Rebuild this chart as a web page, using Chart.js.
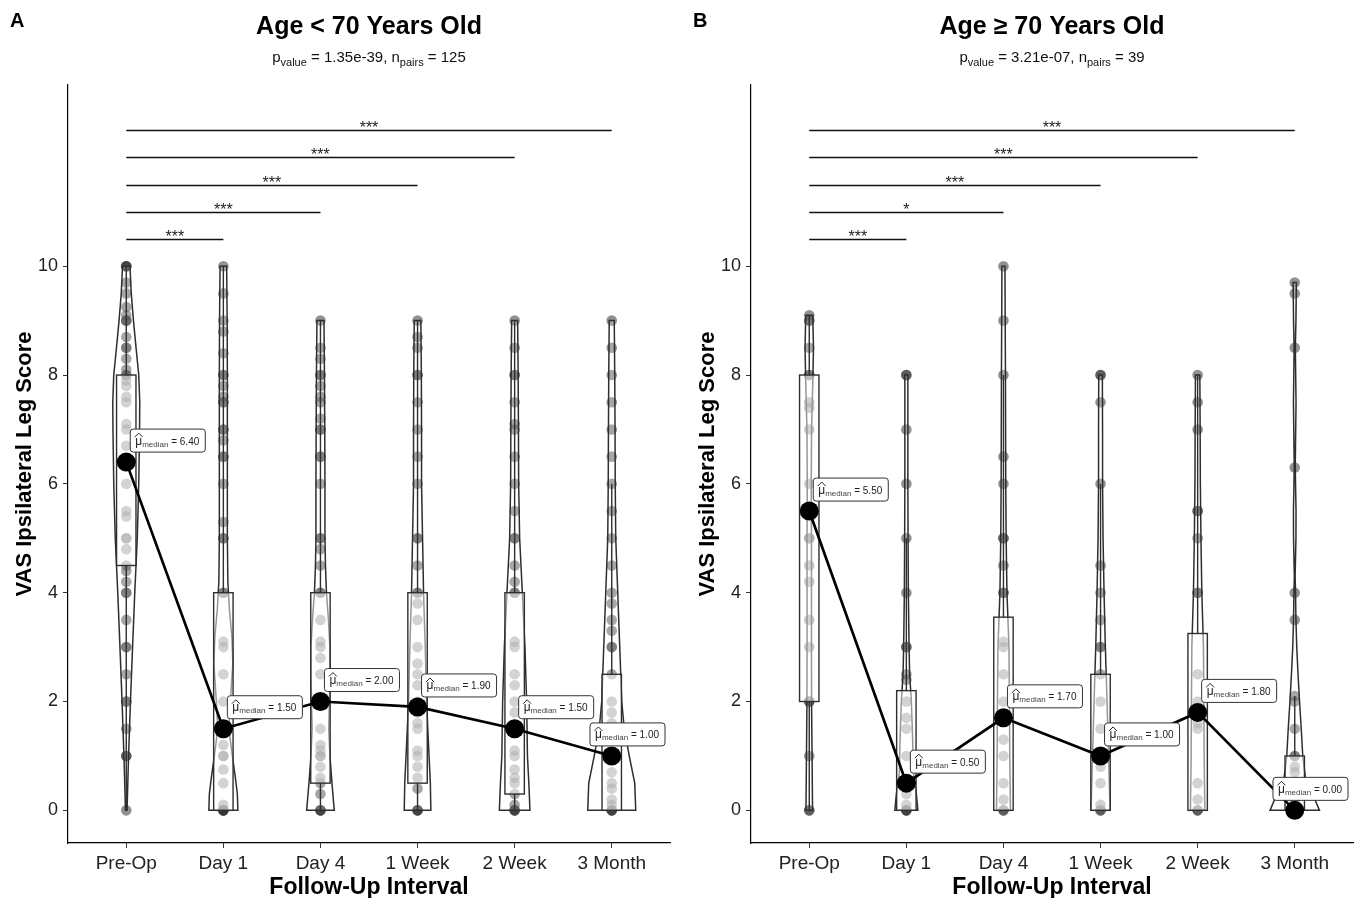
<!DOCTYPE html>
<html><head><meta charset="utf-8">
<script src="https://cdn.jsdelivr.net/npm/chart.js@4"></script>
<style>
html,body{margin:0;padding:0;background:#fff;}
#wrap{position:relative;width:1358px;height:898px;overflow:hidden;background:#fff;}
.pane{position:absolute;top:0;width:680px;height:898px;}
</style></head><body>
<div id="wrap">
<div class="pane" style="left:0"><canvas id="cA" width="680" height="898"></canvas></div>
<div class="pane" style="left:683px"><canvas id="cB" width="680" height="898"></canvas></div>
</div>
<script>
// ---------- shared ----------
const categories = ['Pre-Op','Day 1','Day 4','1 Week','2 Week','3 Month'];
const yTicks = [0,2,4,6,8,10];
const bracketLevels = [10.5, 11, 11.5, 12, 12.5];

// ---------- Panel A : Age < 70 ----------
const titleA = 'Age < 70 Years Old';
const pValueA = '1.35e-39';
const nPairsA = 125;
const mediansA = [6.4, 1.5, 2.0, 1.9, 1.5, 1.0];
const q1A = [4.5, 0, 0.5, 0.5, 0.3, 0];
const q3A = [8, 4, 4, 4, 4, 2.5];
const starsA = ['***','***','***','***','***'];
const a_preOp = [0,1,1,1.5,2,2,2.5,3,3,3.5,4,4,4.2,4.4,4.5,4.8,5,5,5.4,5.5,6,6.7,7,7.1,7.5,7.6,7.8,7.9,8,8,8.1,8.3,8.5,8.5,8.7,9,9,9,9.1,9.25,9.5,9.7,10,10,10];
const a_day1 = [0,0,0,0,0.1,0.5,0.75,1,1,1.2,1.5,2,2.5,3,3.1,4,4,5,5,5.3,6,6.5,6.5,6.8,7,7,7.5,7.5,7.6,7.8,8,8,8.4,8.8,9,9.5,10];
const a_day4 = [0,0,0,0.3,0.5,0.6,0.8,1,1,1.1,1.2,1.5,2,2.5,2.8,3,3.1,3.5,4,4,4.5,4.8,5,5,6,6.5,6.5,7,7,7.2,7.5,7.6,7.8,8,8,8.3,8.5,9];
const a_week1 = [0,0,0,0.4,0.6,0.8,1,1.1,1.5,1.6,1.8,2,2.3,2.5,2.7,3,3.5,3.8,4,4,4.5,5,5,6,6.5,7,7.5,8,8,8.5,8.7,9];
const a_week2 = [0,0,0,0.1,0.3,0.5,0.6,0.75,1,1.1,1.5,1.8,2,2.3,2.5,3,3.1,4,4,4.2,4.5,5,5,5.5,6,6.5,7,7.1,7.5,8,8,8.5,9];
const a_month3 = [0,0,0,0.1,0.2,0.4,0.5,0.7,1,1,1.5,1.6,1.8,2,2.5,3,3,3.3,3.5,3.8,4,4.5,5,5.5,6,6.5,7,7.5,8,8.5,9];
// violin density profiles: [score, relative density]
const vA_preOp = [[0,0.8],[1,2.3],[2,4.2],[3,6.3],[4,8.5],[5,11],[6,12.5],[7,13.3],[7.5,13.5],[8,12.5],[8.5,9.8],[9,7.2],[9.5,5],[10,3.7]];
const vA_day1 = [[0,14.5],[0.3,14],[0.6,12],[1,9],[1.5,5.5],[2,7],[2.7,9.5],[3.2,8.5],[3.7,6],[4.2,4.5],[5,4],[6,4],[8,4],[9,3.8],[10,3.3]];
const vA_day4 = [[0,13.8],[0.5,11.5],[1,9.5],[1.5,8.3],[2,9],[2.5,9.5],[3,9.5],[3.5,8],[4,6],[4.5,5],[5,4.5],[6,4.5],[7,4.3],[8,4],[9,3.5]];
const vA_week1 = [[0,13.3],[0.5,12.8],[1,11.5],[2,9],[3,7.7],[4,6],[5,5],[6,4],[7,4],[8,3.8],[9,3.3]];
const vA_week2 = [[0,15.3],[0.5,14.2],[1,12.8],[2,12],[3,10.3],[4,7.7],[5,5],[6,4],[7,3.8],[8,3.5],[9,3]];
const vA_month3 = [[0,24],[0.5,23],[1,17.5],[1.5,12.5],[2,10],[2.5,9],[3,8],[4,6],[5,4],[6,3.5],[7,3.3],[8,3],[9,2.5]];

// ---------- Panel B : Age >= 70 ----------
const titleB = 'Age \u2265 70 Years Old';
const pValueB = '3.21e-07';
const nPairsB = 39;
const mediansB = [5.5, 0.5, 1.7, 1.0, 1.8, 0.0];
const q1B = [2, 0, 0, 0, 0, 0];
const q3B = [8, 2.2, 3.55, 2.5, 3.25, 1.0];
const starsB = ['***','*','***','***','***'];
const b_preOp = [0,0,1,2,2,3,3.5,4.2,4.5,5,5,6,7,7.4,7.5,8,8,8.5,9,9,9.1];
const b_day1 = [0,0,0,0.1,0.3,0.5,1,1.5,1.7,2,2.4,2.5,3,3,4,5,6,7,8,8];
const b_day4 = [0,0,0.2,0.5,1,1.3,1.7,2,2.5,3,3.1,4,4,4.5,5,5,6,6.5,8,9,10];
const b_week1 = [0,0,0.1,0.5,0.8,1,1.5,2,2.5,3,3,3.5,4,4.5,6,7.5,8,8];
const b_week2 = [0,0,0.2,0.5,1.5,1.6,2,2.5,4,4,5,5.5,5.5,7,7.5,8];
const b_month3 = [0,0,0,0,0.2,0.5,0.7,0.8,1,1,1.5,2,2.1,3.5,4,6.3,8.5,9.5,9.7];
const vB_preOp = [[0,3.3],[1,2.8],[2,2.3],[3,2.2],[4,2.2],[5,2.2],[6,2],[7,2.3],[8,3.7],[8.5,4.2],[9.1,3.5]];
const vB_day1 = [[0,11.5],[0.3,10],[0.7,7],[1.3,6.3],[2,5],[2.5,3.3],[3,2.7],[4,2],[5,1.7],[6,1.5],[7,1.5],[8,1.5]];
const vB_day4 = [[0,7],[1,6.3],[2,6],[3,5.5],[3.5,4.5],[4,3.5],[5,2.7],[6,2.3],[8,2],[10,1.5]];
const vB_week1 = [[0,9.5],[1,8],[2,6.5],[3,4.8],[4,3.5],[5,2.5],[6,2],[7,2],[8,1.8]];
const vB_week2 = [[0,7.2],[1,6.5],[2,6.2],[3,5.8],[4,4.2],[5,3.3],[6,2.7],[7,2.5],[8,2.2]];
const vB_month3 = [[0,24.7],[0.25,19],[0.55,11],[1,8],[1.5,6.5],[2,4.8],[2.5,3.3],[3,2],[3.5,1.2],[4,0.8],[4.3,0.4],[5,1.2],[5.5,1.3],[6.3,0.5],[7.5,1.3],[8.5,0.6],[9,1.2],[9.7,1.6]];

const VIOLIN_SCALE = 1/97.1;   // density unit -> category units
const BOX_HALF = 0.1;
const FONT = '"Liberation Sans", Arial, Helvetica, sans-serif';

Chart.defaults.font.family = FONT;

function whiskers(pts, q1, q3){
  const iqr = q3 - q1;
  const hiB = q3 + 1.5*iqr, loB = q1 - 1.5*iqr;
  let hi = q3, lo = q1;
  pts.forEach(v => { if (v <= hiB && v > hi) hi = v; if (v >= loB && v < lo) lo = v; });
  return [lo, hi];
}

function drawSubtitle(ctx, cx, y, pv, n){
  const parts = [
    ['p', 15, 0], ['value', 11, 4], [' = ' + pv + ', n', 15, 0], ['pairs', 11, 4], [' = ' + n, 15, 0]
  ];
  let total = 0;
  parts.forEach(p => { ctx.font = p[1] + 'px ' + FONT; p.push(ctx.measureText(p[0]).width); total += p[3]; });
  let x = cx - total/2;
  ctx.fillStyle = '#111'; ctx.textAlign = 'left'; ctx.textBaseline = 'alphabetic';
  parts.forEach(p => { ctx.font = p[1] + 'px ' + FONT; ctx.fillText(p[0], x, y + p[2]); x += p[3]; });
}

function drawMedianLabel(ctx, x, y, med, rightLimit){
  const s1 = '\u03bc', s2 = 'median', s3 = ' = ' + med.toFixed(2);
  ctx.font = '12px ' + FONT; const w1 = ctx.measureText(s1).width;
  ctx.font = '8px ' + FONT; const w2 = ctx.measureText(s2).width;
  ctx.font = '10px ' + FONT; const w3 = ctx.measureText(s3).width;
  const W = w1 + w2 + w3 + 11, H = 23;
  let left = x + 4;
  if (left + W > rightLimit - 5) left = rightLimit - 5 - W;
  const top = y - 10 - H;
  ctx.beginPath();
  ctx.roundRect(left, top, W, H, 3);
  ctx.fillStyle = '#fff'; ctx.fill();
  ctx.strokeStyle = '#333'; ctx.lineWidth = 1; ctx.stroke();
  const base = top + 15.5;
  ctx.fillStyle = '#222'; ctx.textAlign = 'left'; ctx.textBaseline = 'alphabetic';
  ctx.font = '12px ' + FONT; ctx.fillText(s1, left + 5, base);
  ctx.beginPath();
  ctx.moveTo(left + 4.5, top + 8); ctx.lineTo(left + 5 + w1/2, top + 4); ctx.lineTo(left + 5.5 + w1, top + 8);
  ctx.strokeStyle = '#222'; ctx.lineWidth = 1; ctx.stroke();
  ctx.font = '8px ' + FONT; ctx.fillStyle = '#444'; ctx.fillText(s2, left + 5 + w1, base + 2);
  ctx.font = '10px ' + FONT; ctx.fillStyle = '#222'; ctx.fillText(s3, left + 5 + w1 + w2, base);
}

function buildPanel(canvasId, P){
  const scatterData = [];
  P.points.forEach((arr, i) => arr.forEach(v => scatterData.push({x: i, y: v})));
  const medData = P.medians.map((m, i) => ({x: i, y: m}));

  const plugin = {
    id: 'extras' + canvasId,
    afterDatasetDraw(chart, args){
      if (args.index !== 0) return;
      const ctx = chart.ctx, xs = chart.scales.x, ys = chart.scales.y;
      ctx.save();
      // violins
      P.violins.forEach((prof, i) => {
        const cx = xs.getPixelForValue(i);
        const hw = d => xs.getPixelForValue(i + d * VIOLIN_SCALE) - cx;
        ctx.beginPath();
        prof.forEach(([v, d], k) => {
          const px = cx - hw(d), py = ys.getPixelForValue(v);
          if (k === 0) ctx.moveTo(px, py); else ctx.lineTo(px, py);
        });
        for (let k = prof.length - 1; k >= 0; k--) {
          const [v, d] = prof[k];
          ctx.lineTo(cx + hw(d), ys.getPixelForValue(v));
        }
        ctx.closePath();
        ctx.fillStyle = 'rgba(255,255,255,0.2)'; ctx.fill();
        ctx.strokeStyle = '#2e2e2e'; ctx.lineWidth = 1.5; ctx.stroke();
      });
      // boxes
      P.points.forEach((pts, i) => {
        const q1 = P.q1[i], q3 = P.q3[i];
        const [lo, hi] = whiskers(pts, q1, q3);
        const cx = xs.getPixelForValue(i);
        ctx.strokeStyle = '#2e2e2e'; ctx.lineWidth = 1.4;
        ctx.beginPath();
        ctx.moveTo(cx, ys.getPixelForValue(q3)); ctx.lineTo(cx, ys.getPixelForValue(hi));
        ctx.moveTo(cx, ys.getPixelForValue(q1)); ctx.lineTo(cx, ys.getPixelForValue(lo));
        ctx.stroke();
        const xl = xs.getPixelForValue(i - BOX_HALF), xr = xs.getPixelForValue(i + BOX_HALF);
        const yt = ys.getPixelForValue(q3), yb = ys.getPixelForValue(q1);
        ctx.fillStyle = 'rgba(255,255,255,0.5)';
        ctx.fillRect(xl, yt, xr - xl, yb - yt);
        ctx.lineWidth = 1.4;
        ctx.strokeRect(xl, yt, xr - xl, yb - yt);
        const ym = ys.getPixelForValue(P.medians[i]);
        ctx.beginPath(); ctx.moveTo(xl, ym); ctx.lineTo(xr, ym); ctx.stroke();
      });
      ctx.restore();
    },
    afterDatasetsDraw(chart){
      const ctx = chart.ctx, xs = chart.scales.x, ys = chart.scales.y, ca = chart.chartArea;
      ctx.save();
      // significance brackets
      P.stars.forEach((s, k) => {
        const x0 = xs.getPixelForValue(0), x1 = xs.getPixelForValue(k + 1);
        const y = Math.round(ys.getPixelForValue(bracketLevels[k])) + 0.5;
        ctx.beginPath(); ctx.moveTo(x0, y); ctx.lineTo(x1, y);
        ctx.strokeStyle = '#111'; ctx.lineWidth = 1.7; ctx.stroke();
        ctx.font = '16px ' + FONT; ctx.fillStyle = '#222';
        ctx.textAlign = 'center'; ctx.textBaseline = 'alphabetic';
        ctx.fillText(s, (x0 + x1)/2, y + 2);
      });
      // median labels
      P.medians.forEach((m, i) => {
        drawMedianLabel(ctx, xs.getPixelForValue(i), ys.getPixelForValue(m), m, ca.right);
      });
      ctx.restore();
    },
    afterDraw(chart){
      const ctx = chart.ctx, ca = chart.chartArea;
      const cx = (ca.left + ca.right)/2;
      ctx.save();
      ctx.fillStyle = '#000';
      ctx.textAlign = 'left'; ctx.textBaseline = 'alphabetic';
      ctx.font = 'bold 20px ' + FONT; ctx.fillText(P.letter, 10, 27);
      ctx.textAlign = 'center';
      ctx.font = 'bold 25px ' + FONT; ctx.fillText(P.title, cx, 34);
      drawSubtitle(ctx, cx, 62, P.pValue, P.nPairs);
      ctx.fillStyle = '#000';
      ctx.font = 'bold 23px ' + FONT; ctx.textAlign = 'center'; ctx.textBaseline = 'middle';
      ctx.fillText('Follow-Up Interval', cx, 888);
      ctx.font = 'bold 22px ' + FONT;
      ctx.translate(25, (ca.top + ca.bottom)/2);
      ctx.rotate(-Math.PI/2);
      ctx.fillText('VAS Ipsilateral Leg Score', 0, 0);
      ctx.restore();
    }
  };

  return new Chart(document.getElementById(canvasId), {
    type: 'scatter',
    data: { datasets: [
      { type: 'scatter', data: scatterData, pointRadius: 5.3, pointHoverRadius: 5.3,
        backgroundColor: 'rgba(45,45,45,0.52)', borderWidth: 0, order: 2 },
      { type: 'line', data: medData, borderColor: '#000', borderWidth: 2.7, pointRadius: 9.5,
        pointHoverRadius: 9.5, pointBackgroundColor: '#000', pointBorderWidth: 0, tension: 0, order: 1 }
    ]},
    options: {
      responsive: false, animation: false, devicePixelRatio: 1,
      layout: { padding: { top: 85, right: 10, left: 0, bottom: 0 } },
      plugins: { legend: { display: false }, tooltip: { enabled: false }, title: { display: false } },
      events: [],
      scales: {
        x: {
          type: 'linear', min: -0.6, max: 5.6,
          afterBuildTicks: s => { s.ticks = categories.map((c, i) => ({ value: i })); },
          ticks: { callback: v => categories[v], color: '#222', font: { size: 19 }, padding: 4, autoSkip: false, maxRotation: 0 },
          grid: { display: true, drawOnChartArea: false, drawTicks: true, tickLength: 5, color: '#333', lineWidth: 1 },
          border: { display: true, color: '#000', width: 1.2 },
          afterFit: s => { s.height = 55; }
        },
        y: {
          type: 'linear', min: -0.6, max: 13.33,
          afterBuildTicks: s => { s.ticks = yTicks.map(v => ({ value: v })); },
          ticks: { color: '#222', font: { size: 18 }, padding: 5 },
          grid: { display: true, drawOnChartArea: false, drawTicks: true, tickLength: 5, color: '#333', lineWidth: 1 },
          border: { display: true, color: '#000', width: 1.2 },
          afterFit: s => { s.width = 68; }
        }
      }
    },
    plugins: [plugin]
  });
}

buildPanel('cA', {
  letter: 'A', title: titleA, pValue: pValueA, nPairs: nPairsA,
  medians: mediansA, q1: q1A, q3: q3A, stars: starsA,
  points: [a_preOp, a_day1, a_day4, a_week1, a_week2, a_month3],
  violins: [vA_preOp, vA_day1, vA_day4, vA_week1, vA_week2, vA_month3]
});
buildPanel('cB', {
  letter: 'B', title: titleB, pValue: pValueB, nPairs: nPairsB,
  medians: mediansB, q1: q1B, q3: q3B, stars: starsB,
  points: [b_preOp, b_day1, b_day4, b_week1, b_week2, b_month3],
  violins: [vB_preOp, vB_day1, vB_day4, vB_week1, vB_week2, vB_month3]
});
</script>
</body></html>
